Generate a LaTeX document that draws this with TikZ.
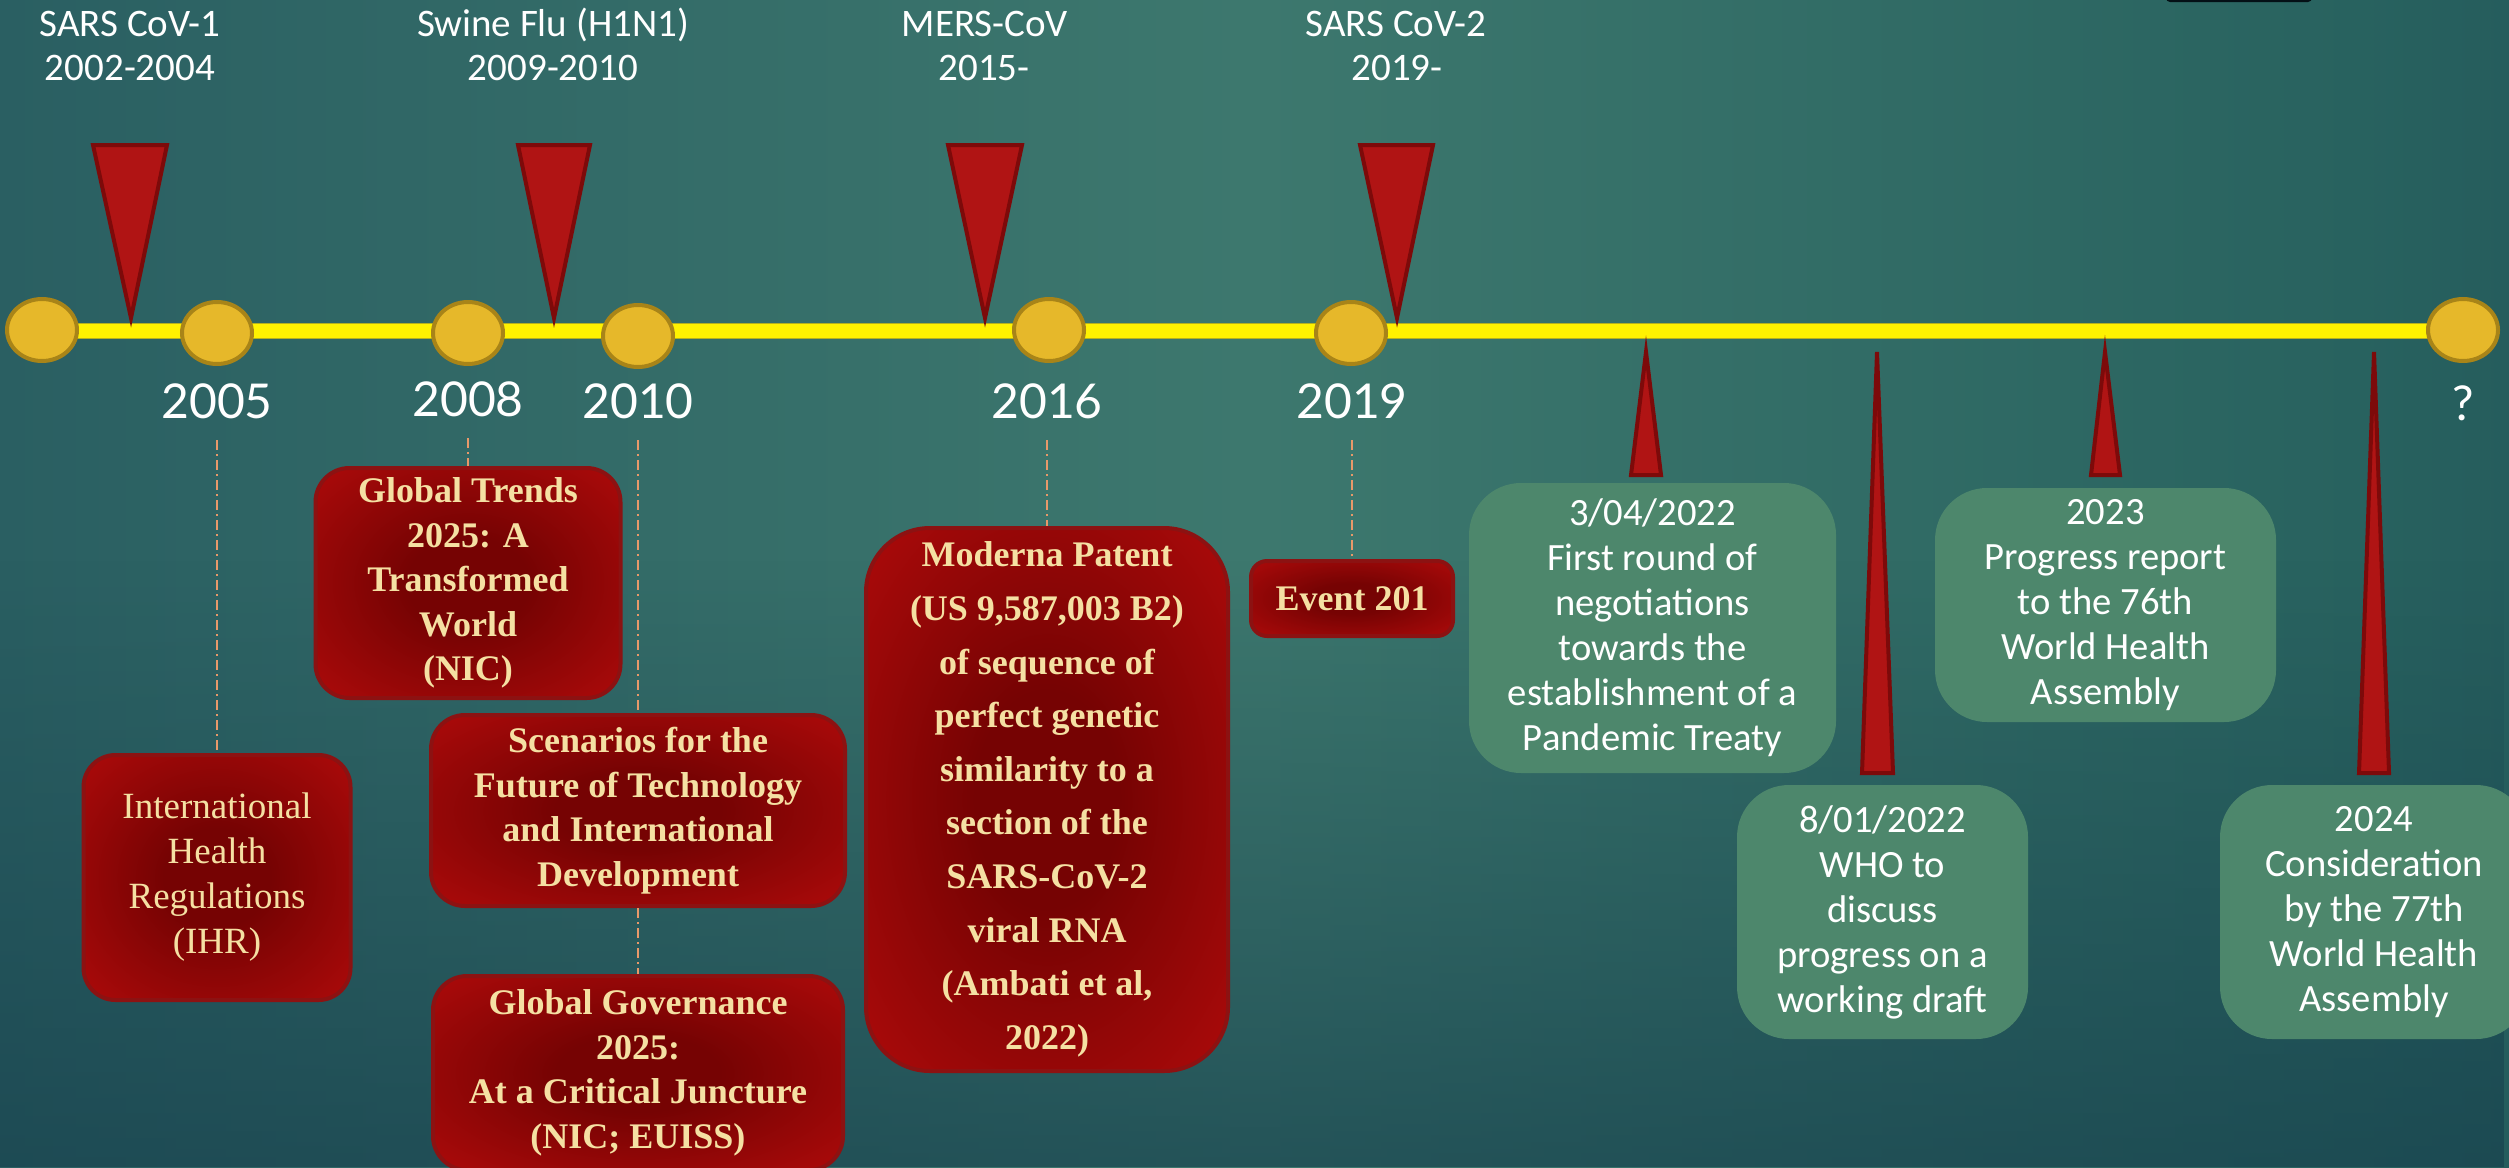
\documentclass[tikz,border=0pt]{standalone}
\usepackage{fontspec}
\setmainfont{Liberation Serif}
\newfontfamily\calfont{Carlito}
\newfontfamily\yrfont{Lato}
\usetikzlibrary{shapes.geometric,fadings}
\definecolor{bgA}{HTML}{1A4450}
\definecolor{bgB}{HTML}{2A5F62}
\definecolor{bgC}{HTML}{3D786E}
\definecolor{bgD}{HTML}{28625F}
\definecolor{bgE}{HTML}{1B4A55}
\definecolor{bgF}{HTML}{0F3548}
\definecolor{bgbot}{HTML}{17404D}
\definecolor{rdark}{HTML}{760303}
\definecolor{redge}{HTML}{B20B0B}
\definecolor{rbord}{HTML}{8C1212}
\definecolor{cream}{HTML}{F5E0A3}
\definecolor{grn}{HTML}{4D876C}
\definecolor{dotfill}{HTML}{E6B82A}
\definecolor{dotbord}{HTML}{A88418}
\definecolor{tlbord}{HTML}{B5B020}
\definecolor{trifill}{HTML}{B01414}
\definecolor{tribord}{HTML}{7D0A0A}
\definecolor{dashc}{HTML}{E8996A}
\pgfdeclarehorizontalshading{bgsh}{100bp}{color(0bp)=(bgA); color(25bp)=(bgB); color(50bp)=(bgC); color(72bp)=(bgD); color(86bp)=(bgE); color(100bp)=(bgF)}
\pgfdeclareradialshading{redsh}{\pgfpoint{0bp}{0bp}}{color(0bp)=(rdark); color(10bp)=(rdark); color(38bp)=(redge); color(50bp)=(redge)}
\tikzfading[name=botfade, top color=transparent!100, bottom color=transparent!35]
\pgfdeclarelayer{bg}
\pgfsetlayers{bg,main}
\begin{document}
\begin{tikzpicture}[x=0.5pt,y=-0.5pt,
  dot/.style={ellipse, draw=dotbord, fill=dotfill, line width=2pt, minimum width=35pt, minimum height=31pt, inner sep=0pt},
  redbox/.style={draw=rbord, line width=2pt, shade, shading=redsh, text=cream, align=center, inner sep=0pt, font=\bfseries\fontsize{18pt}{22.25pt}\selectfont},
  grbox/.style={fill=grn, rounded corners=26pt, text=white, align=center, inner sep=0pt, font=\calfont\fontsize{19.3pt}{22.5pt}\selectfont},
  toplab/.style={text=white, anchor=base, inner sep=0pt, font=\calfont\fontsize{19.5pt}{22pt}\selectfont},
  yearlab/.style={text=white, anchor=base, inner sep=0pt, font=\yrfont\fontsize{24pt}{30pt}\selectfont},
  conn/.style={draw=dashc, line width=1pt, dash pattern=on 5pt off 2pt on 1pt off 2pt},
  marker/.style={fill=trifill, draw=tribord, line width=2pt, line join=miter}]
\useasboundingbox (0,0) rectangle (2509,1167);
\clip (0,0) rectangle (2509,1167);
\begin{pgfonlayer}{bg}
  \fill[shading=bgsh] (0,0) rectangle (2509,1167);
  \fill[bgbot, path fading=botfade] (0,560) rectangle (2509,1167);
  \fill[color=black!70!bgF, rounded corners=2pt] (2166,-6) rectangle (2312,2);
\end{pgfonlayer}

% timeline ends
\coordinate (tlL) at (42,331);
\coordinate (tlR) at (2463,331);
\begin{pgfonlayer}{bg}
  \draw[line width=8pt, tlbord] (tlL) -- (tlR);
  \draw[line width=7pt, yellow] (tlL) -- (tlR);
\end{pgfonlayer}

% circles
\node[dot] (c1) at (42,330) {};
\node[dot] (c2) at (217,333) {};
\node[dot] (c3) at (468,333) {};
\node[dot] (c4) at (638,336) {};
\node[dot] (c5) at (1049,330) {};
\node[dot] (c6) at (1351,333) {};
\node[dot] (c7) at (2463,330) {};

% top labels
\node[toplab] (t1a) at (130,36) {SARS CoV-1};
\node[toplab] (t1b) at (130,80) {2002-2004};
\node[toplab] (t2a) at (553,36) {Swine Flu (H1N1)};
\node[toplab] (t2b) at (553,80) {2009-2010};
\node[toplab] (t3a) at (985,36) {MERS-CoV};
\node[toplab] (t3b) at (984,80) {2015-};
\node[toplab] (t4a) at (1396,36) {SARS CoV-2};
\node[toplab] (t4b) at (1397,80) {2019-};

% top markers
\draw[marker] (93,145) -- (167,145) -- (131,318) -- cycle;
\draw[marker] (518,145) -- (590,145) -- (554,318) -- cycle;
\draw[marker] (948,145) -- (1022,145) -- (985,318) -- cycle;
\draw[marker] (1360,145) -- (1433,145) -- (1397,318) -- cycle;

% year labels
\node[yearlab] (y2005) at (217,418) {2005};
\node[yearlab] (y2008) at (468,416) {2008};
\node[yearlab] (y2010) at (638,418) {2010};
\node[yearlab] (y2016) at (1047,418) {2016};
\node[yearlab] (y2019) at (1352,418) {2019};
\node[yearlab] (yq) at (2463,420) {?};

% red boxes
\node[redbox, rounded corners=16pt, minimum width=133.5pt, minimum height=122.5pt,
  font=\fontsize{18.5pt}{22.5pt}\selectfont] (ihr) at (217,877.5)
  {International\\Health\\Regulations\\(IHR)};
\node[redbox, rounded corners=17pt, minimum width=152.5pt, minimum height=115pt] (gt) at (468,583)
  {Global Trends\\2025: A\\Transformed\\World\\(NIC)};
\node[redbox, rounded corners=17pt, minimum width=207pt, minimum height=95.5pt] (scen) at (638,810.5)
  {Scenarios for the\\Future of Technology\\and International\\Development};
\node[redbox, rounded corners=17pt, minimum width=205pt, minimum height=97pt] (gg) at (638,1073)
  {Global Governance\\2025:\\At a Critical Juncture\\(NIC; EUISS)};
\node[redbox, rounded corners=32pt, minimum width=181pt, minimum height=271.5pt,
  font=\bfseries\fontsize{18pt}{26.8pt}\selectfont] (mod) at (1047,799.5)
  {Moderna Patent\\(US 9,587,003 B2)\\of sequence of\\perfect genetic\\similarity to a\\section of the\\SARS-CoV-2\\viral RNA\\(Ambati et al,\\2022)};
\node[redbox, rounded corners=8pt, minimum width=101pt, minimum height=37.5pt] (ev) at (1352,598.5)
  {Event 201};

% dashed connectors
\draw[conn] ([yshift=-11pt]y2005.base) -- (ihr.north);
\draw[conn] ([yshift=-11pt]y2008.base) -- (gt.north);
\draw[conn] ([yshift=-11pt]y2010.base) -- (scen.north);
\draw[conn] (scen.south) -- (gg.north);
\draw[conn] ([yshift=-11pt]y2016.base) -- (mod.north);
\draw[conn] ([yshift=-11pt]y2019.base) -- (ev.north);

% green boxes
\node[grbox, minimum width=183.5pt, minimum height=145pt] (g1) at (1652.5,628)
  {3/04/2022\\First round of\\negotiations\\towards the\\establishment of a\\Pandemic Treaty};
\node[grbox, minimum width=145.5pt, minimum height=127pt] (g2) at (1882.5,912)
  {8/01/2022\\WHO to\\discuss\\progress on a\\working draft};
\node[grbox, minimum width=170.5pt, minimum height=117pt] (g3) at (2105.5,605)
  {2023\\Progress report\\to the 76th\\World Health\\Assembly};
\node[grbox, minimum width=154pt, minimum height=127pt] (g4) at (2374,912)
  {2024\\Consideration\\by the 77th\\World Health\\Assembly};

% spikes from timeline to green boxes
\draw[marker] (1646,352) -- (1661,475) -- (1631,475) -- cycle;
\draw[marker] (1877,352) -- (1893,773) -- (1862,773) -- cycle;
\draw[marker] (2105,352) -- (2120,475) -- (2091,475) -- cycle;
\draw[marker] (2374,352) -- (2389,773) -- (2359,773) -- cycle;
\end{tikzpicture}
\end{document}
